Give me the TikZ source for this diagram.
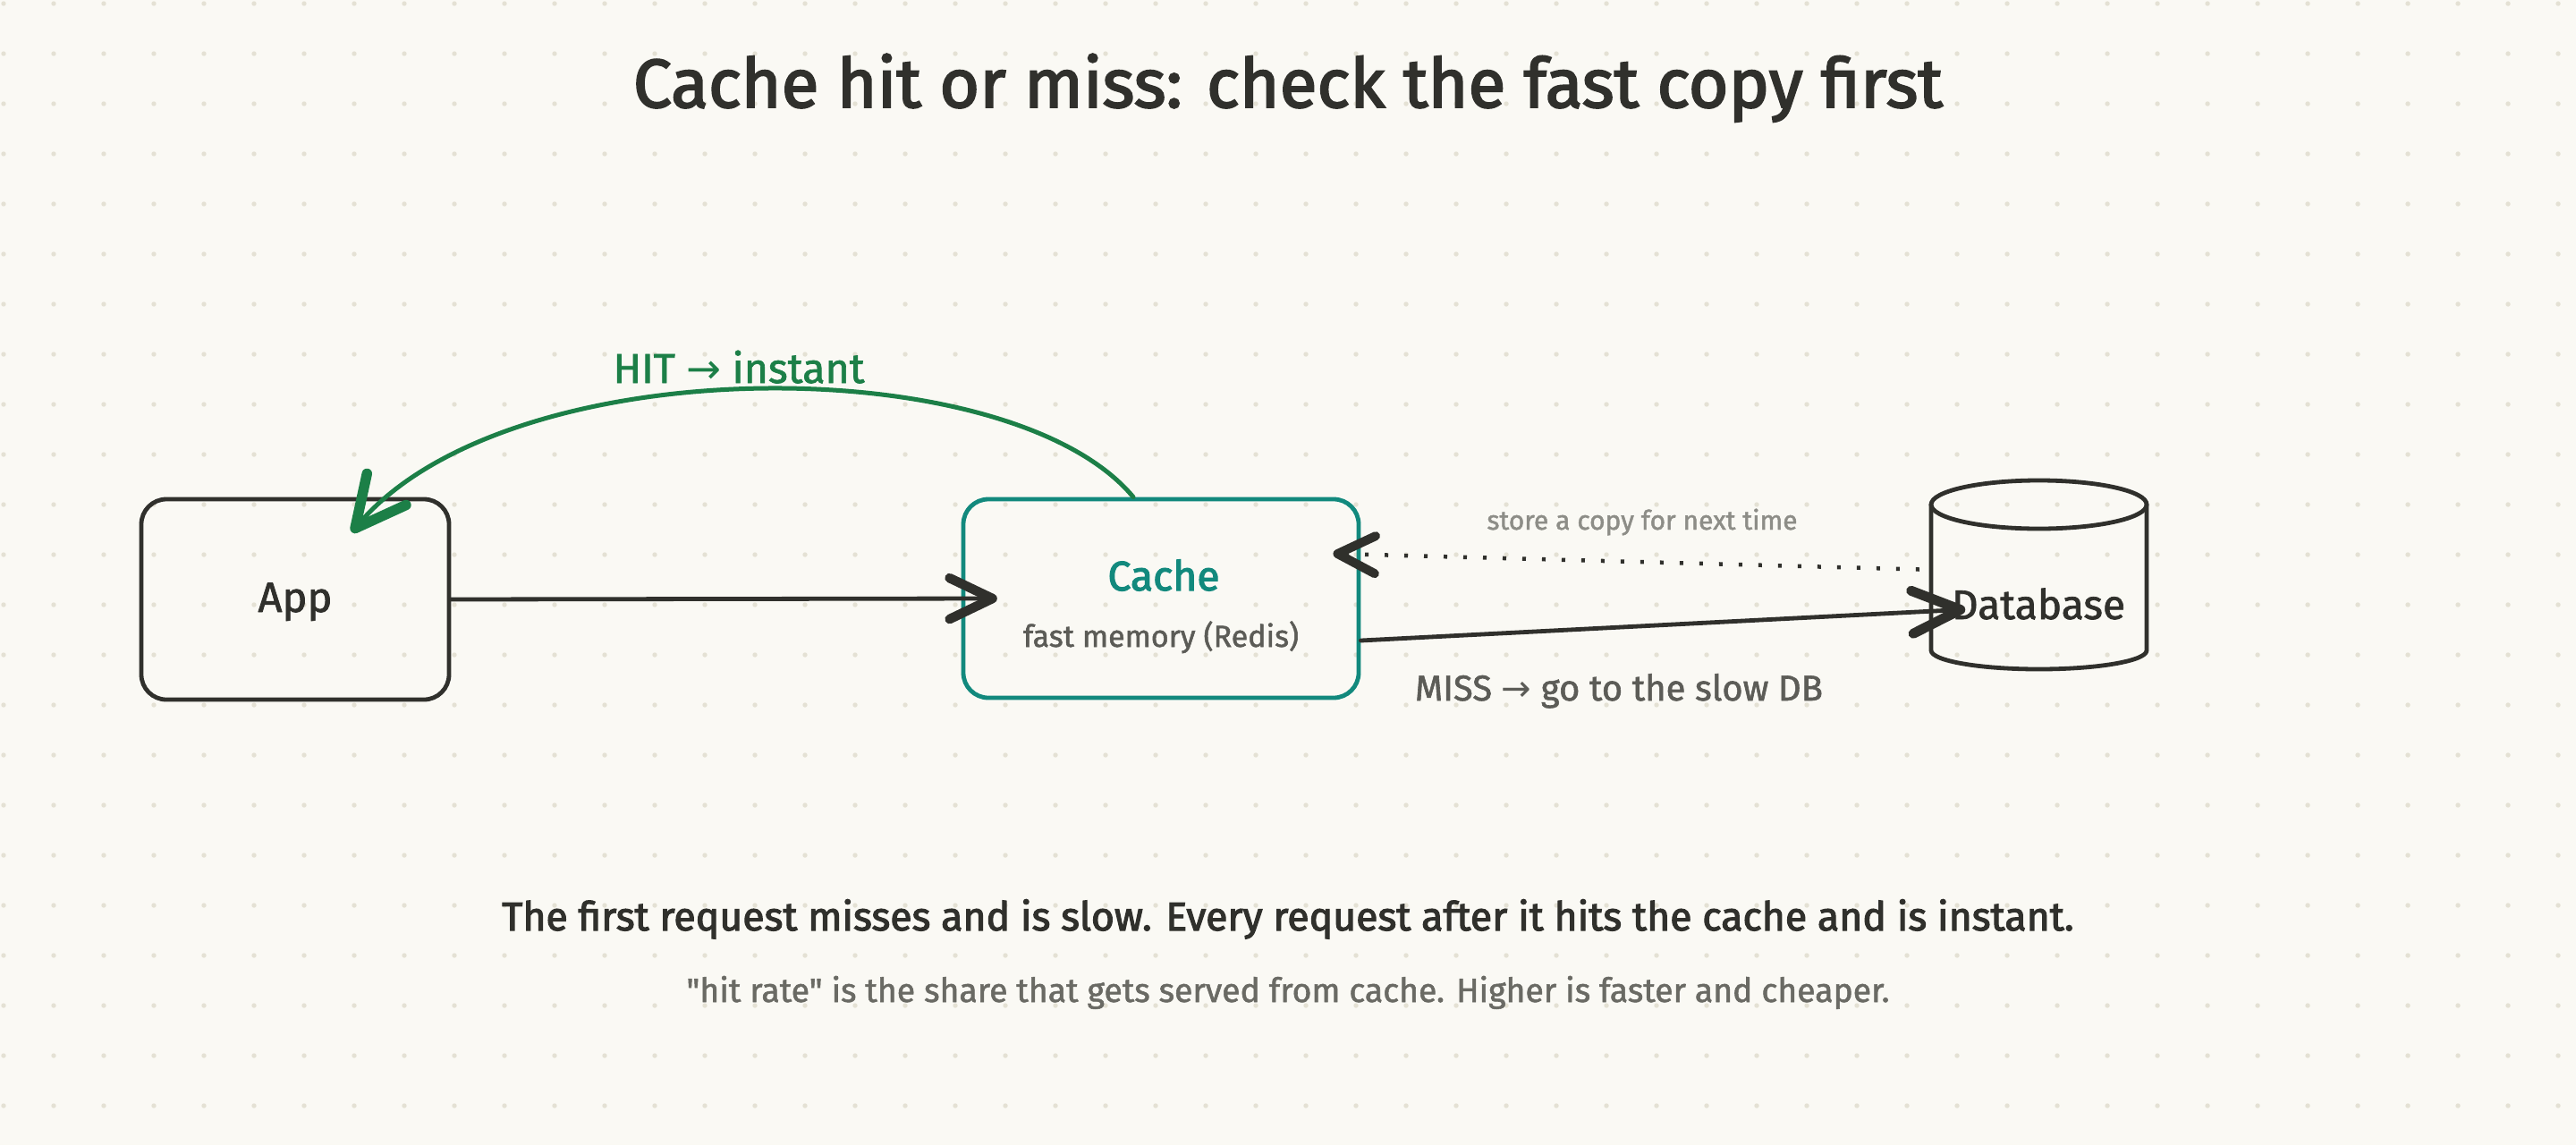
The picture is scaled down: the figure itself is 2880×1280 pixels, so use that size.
\documentclass[tikz,border=0pt]{standalone}
\usepackage{fontspec}
\usepackage{graphicx}
\newfontfamily\hand{Fira Sans}[FakeBold=1.5]
\newfontfamily\handb{Fira Sans}[FakeBold=2.5]
\newfontfamily\arrowfont{DejaVu Sans}
\usetikzlibrary{arrows.meta,calc,decorations.markings}
\definecolor{bg}{HTML}{FAF9F4}
\definecolor{gdot}{HTML}{E4E1D4}
\definecolor{ink}{HTML}{30302C}
\definecolor{cteal}{HTML}{12897D}
\definecolor{cgreen}{HTML}{1C7F47}
\definecolor{gsub}{HTML}{5C5C57}
\definecolor{glight}{HTML}{8D8D87}
\definecolor{gnote}{HTML}{6A6A64}
\newcommand{\fitw}[2]{\resizebox{#1pt}{!}{#2}}
\tikzset{
  sketch/.style={line width=4.8pt, line cap=round, line join=round},
  boxnode/.style={sketch, rectangle, rounded corners=28pt, inner sep=0pt},
  txt/.style={anchor=base, inner sep=0pt, font=\hand},
  chevron/.style n args={4}{postaction={decorate, decoration={markings,
     mark=at position 1 with {\draw[draw=#4, solid, line width=#3, line cap=round, line join=round] (-#1,#2) -- (0pt,0pt) -- (-#1,-#2);}}}},
}
\begin{document}
\begin{tikzpicture}[x=1pt,y=-1pt]
\useasboundingbox (0,0) rectangle (2880,1280);
\fill[bg] (0,0) rectangle (2880,1280);
\foreach \i in {0,...,51}{\foreach \j in {0,...,22}{\fill[gdot] (4+56*\i,4+56*\j) circle (2.7);}}

% title
\node[txt, text=ink, font=\handb] (title) at (1440,120) {\fitw{1464}{Cache hit or miss: check the fast copy first}};

% nodes
\node[boxnode, draw=ink, minimum width=344pt, minimum height=224pt, text height=28pt, text depth=0pt, text=ink, font=\hand] (app) at (330,670) {\fitw{83}{App}};
\node[boxnode, draw=cteal, minimum width=442pt, minimum height=222pt] (cache) at (1298,669) {};
\node[txt, text=cteal, font=\handb] (cachetitle) at (1301,660) {\fitw{125}{Cache}};
\node[txt, text=gsub] (cachesub) at (1298,723) {\fitw{308}{fast memory (Redis)}};

\node[rectangle, minimum width=241pt, minimum height=211pt, inner sep=0pt] (db) at (2279.5,642.5) {};
\draw[sketch, draw=ink] (2159,564) -- (2159,727) arc[start angle=180, end angle=0, x radius=120.5, y radius=21] -- (2400,564);
\draw[sketch, draw=ink] (2279.5,564) ellipse[x radius=120.5, y radius=27];
\node[txt, text=ink] (dblabel) at (2279,692) {\fitw{194}{Database}};

% connectors
\draw[sketch, draw=ink, chevron={48pt}{23pt}{10.5pt}{ink}] (app.east) -- ($(cache.west)+(35,0)$);
\draw[sketch, draw=ink, chevron={54pt}{24pt}{11pt}{ink}] ($(cache.east)+(0,47)$) -- ($(db.west)+(33,39)$);
\draw[draw=ink, line width=4.5pt, dash pattern=on 4pt off 18pt, chevron={42pt}{21pt}{10pt}{ink}] ($(db.west)+(-13,-6)$) -- ($(cache.east)+(-26,-50)$);
\draw[sketch, draw=cgreen, line width=5pt, chevron={56pt}{28pt}{11.5pt}{cgreen}] ($(cache.north)+(-31,0)$) .. controls (1128,388) and (560,388) .. ($(app.north)+(67,35)$);

% labels
\node[txt, text=cgreen] (hitlabel) at (826,428) {\fitw{281}{HIT {\arrowfont →} instant}};
\node[txt, text=glight] (storelabel) at (1836,592) {\fitw{347}{store a copy for next time}};
\node[txt, text=gsub] (misslabel) at (1810,783) {\fitw{456}{MISS {\arrowfont →} go to the slow DB}};

% bottom notes
\node[txt, text=ink, font=\handb] (note1) at (1440,1040) {\fitw{1757}{The first request misses and is slow. Every request after it hits the cache and is instant.}};
\node[txt, text=gnote] (note2) at (1440,1120) {\fitw{1345}{"hit rate" is the share that gets served from cache. Higher is faster and cheaper.}};
\end{tikzpicture}
\end{document}
